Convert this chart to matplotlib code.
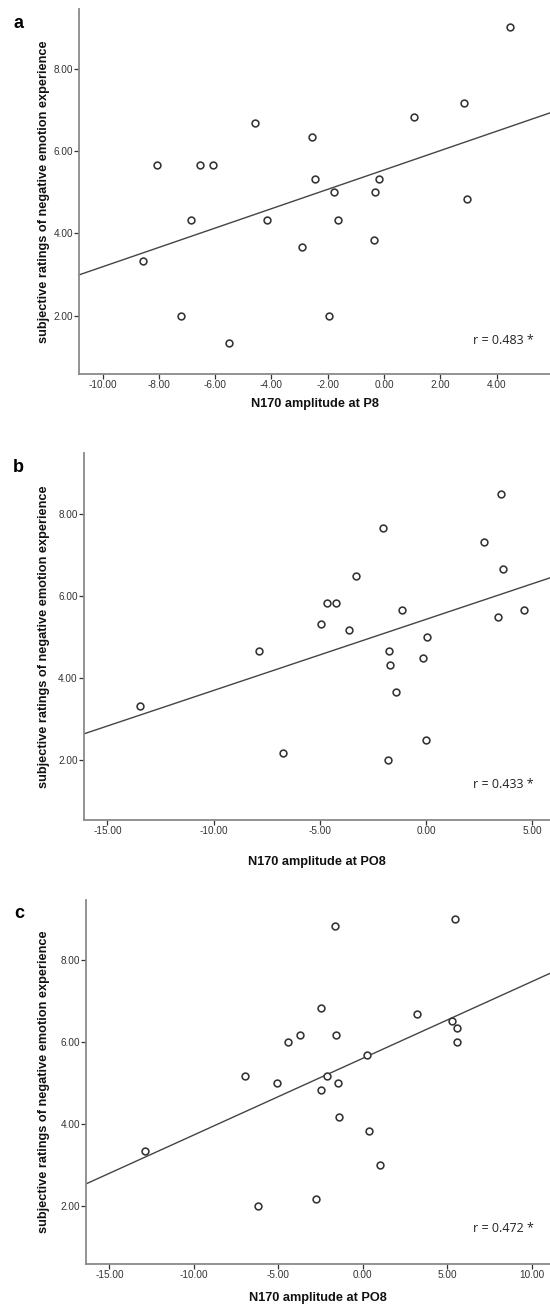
import numpy as np
import matplotlib
matplotlib.use("Agg")
from matplotlib import pyplot as plt

plt.rcParams['font.family'] = ['Liberation Sans', 'DejaVu Sans']
plt.rcParams['axes.unicode_minus'] = False

W, H = 550, 1306

# panel a: N170 at P8
a_x = [-8.08, -6.55, -6.09, -4.59, -2.56, -2.47, -0.19, -1.77, -0.31, 2.96, 1.08,
       2.83, 4.47, -6.87, -4.16, -1.62, -8.56, -2.92, -0.34, -7.22, -1.96, -5.52]
a_y = [5.67, 5.67, 5.67, 6.67, 6.33, 5.33, 5.33, 5.00, 5.00, 4.83, 6.83,
       7.17, 9.00, 4.33, 4.33, 4.33, 3.33, 3.67, 3.83, 2.00, 2.00, 1.33]

# panel b: N170 at PO8
b_x = [3.53, -2.02, 2.73, 3.63, -3.29, -4.65, -4.25, -1.13, 4.62, 3.41, -4.95,
       -3.63, 0.07, -7.86, -1.74, -1.69, -0.12, -1.41, -13.49, -6.72, 0.02, -1.77]
b_y = [8.50, 7.67, 7.33, 6.67, 6.50, 5.83, 5.83, 5.67, 5.67, 5.50, 5.33,
       5.17, 5.00, 4.67, 4.67, 4.33, 4.50, 3.67, 3.33, 2.17, 2.50, 2.00]

# panel c: N170 at PO8
c_x = [-1.67, 5.43, -2.48, 3.23, 5.25, 5.56, 5.58, -4.45, -3.71, -1.56, 0.27,
       -6.95, -5.08, -2.14, -1.48, -2.48, -1.42, 0.35, -12.89, 1.02, -2.77, -6.20]
c_y = [8.83, 9.00, 6.83, 6.67, 6.50, 6.33, 6.00, 6.00, 6.17, 6.17, 5.67,
       5.17, 5.00, 5.17, 5.00, 4.83, 4.17, 3.83, 3.33, 3.00, 2.17, 2.00]

letters = ['a', 'b', 'c']
xlabels = ['N170 amplitude at P8', 'N170 amplitude at PO8', 'N170 amplitude at PO8']
r_texts = ['r = 0.483 *', 'r = 0.433 *', 'r = 0.472 *']
x_ticks = [np.arange(-10, 5, 2), np.arange(-15, 6, 5), np.arange(-15, 11, 5)]
y_ticks = [2, 4, 6, 8]
ylabel = 'subjective ratings of negative emotion experience'

# layout in pixels: left, top, bottom of each axes
boxes = [(79.3, 9.3, 374), (83.7, 453.3, 820), (86.1, 900, 1264)]
xlims = [(-10.83, 5.9), (-16.12, 5.84), (-16.38, 11.08)]
ylims = [(0.585, 9.44), (0.546, 9.48), (0.576, 9.465)]
letter_pos = [(19, 24), (18, 468), (19, 914)]
xlabel_y = [404, 862, 1298]
r_y = [340, 785, 1229]


def fx(px):
    return px / W


def fy(py):
    return 1 - py / H


def draw_panel(fig, i, xs, ys):
    left, top, bottom = boxes[i]
    ax = fig.add_axes([fx(left), fy(bottom), fx(W - left), (bottom - top) / H])
    ax.scatter(xs, ys, s=24, facecolors='white', edgecolors='#333333',
               linewidths=1.15, zorder=3)

    # least squares line across the whole x range
    slope, icpt = np.polyfit(xs, ys, 1)
    lx = np.array(xlims[i])
    ax.plot(lx, icpt + slope * lx, color='#444444', lw=1.0, zorder=2)

    ax.set_xlim(xlims[i])
    ax.set_ylim(ylims[i])
    ax.set_xticks(x_ticks[i])
    ax.set_yticks(y_ticks)
    ax.xaxis.set_major_formatter(matplotlib.ticker.FormatStrFormatter('%.2f'))
    ax.yaxis.set_major_formatter(matplotlib.ticker.FormatStrFormatter('%.2f'))
    ax.tick_params(length=3.5, width=0.9, color='#333333', labelcolor='#333333',
                   labelsize=7.2, pad=0.8)
    for side in ['top', 'right']:
        ax.spines[side].set_visible(False)
    for side in ['left', 'bottom']:
        ax.spines[side].set_color('#8a8a8a')
        ax.spines[side].set_linewidth(1.3)

    fig.text(fx(44), fy((top + bottom) / 2), ylabel, rotation=90, fontsize=9.2,
             fontweight='bold', ha='center', va='center', color='#111111')
    fig.text(fx(left + (W - left) / 2), fy(xlabel_y[i]), xlabels[i], fontsize=9.2,
             fontweight='bold', ha='center', va='center', color='#111111')
    fig.text(fx(letter_pos[i][0]), fy(letter_pos[i][1]), letters[i], fontsize=13,
             fontweight='bold', ha='center', va='center', color='black')
    fig.text(fx(534), fy(r_y[i]), r_texts[i], fontsize=9, ha='right', va='center',
             color='#222222', family=['Open Sans', 'DejaVu Sans'])
    return ax


fig = plt.figure(figsize=(W / 100, H / 100), dpi=100)
for i, (xs, ys) in enumerate([(a_x, a_y), (b_x, b_y), (c_x, c_y)]):
    draw_panel(fig, i, xs, ys)
fig.savefig('out.png', dpi=100, facecolor='white')
